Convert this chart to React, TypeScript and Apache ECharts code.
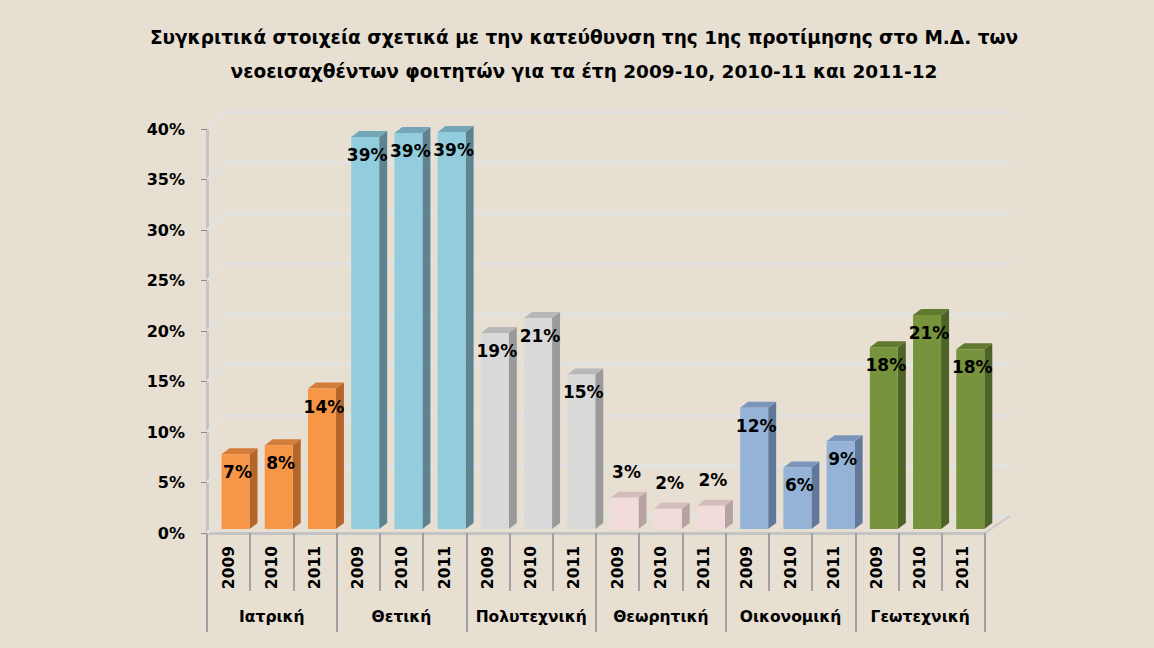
import React, { useEffect, useRef } from "react";
import * as echarts from "echarts";

const TITLE =
  "Συγκριτικά στοιχεία σχετικά με την κατεύθυνση της 1ης προτίμησης στο Μ.Δ. των\nνεοεισαχθέντων φοιτητών για τα έτη 2009-10, 2010-11 και 2011-12";

const years = ["2009", "2010", "2011"];
const groups = ["Ιατρική", "Θετική", "Πολυτεχνική", "Θεωρητική", "Οικονομική", "Γεωτεχνική"];

const iatriki = [7.4, 8.3, 13.9];
const thetiki = [38.8, 39.2, 39.3];
const polytexniki = [19.4, 20.9, 15.3];
const theoritiki = [3.1, 2.0, 2.3];
const oikonomiki = [12.0, 6.1, 8.7];
const geotexniki = [18.0, 21.2, 17.8];

const groupValues = [iatriki, thetiki, polytexniki, theoritiki, oikonomiki, geotexniki];

const yTicks = [0, 5, 10, 15, 20, 25, 30, 35, 40];

// front, side, top colours per group
const palette = [
  ["#f79646", "#b3652a", "#d47d3a"],
  ["#93cddd", "#5d8391", "#73a6b6"],
  ["#d9d9d9", "#9a9a9a", "#b8b8b8"],
  ["#f2dcdb", "#b8a2a1", "#d3bcbb"],
  ["#95b3d7", "#60789a", "#7a96ba"],
  ["#77933c", "#4f6228", "#627a30"],
];

const FONT = "'DejaVu Sans', 'Noto Sans', sans-serif";

export default function App() {
  const ref = useRef<HTMLDivElement>(null);

  useEffect(() => {
    if (!ref.current) return;
    const chart = echarts.init(ref.current, undefined, { renderer: "svg" });

    const xCats: string[] = [];
    const barData: number[][] = [];
    groupValues.forEach((vals, g) => {
      vals.forEach((v, i) => {
        xCats.push(years[i]);
        barData.push([xCats.length - 1, v, g]);
      });
    });

    const DX = 8;
    const DY = -6;
    const WDX = 19;
    const WDY = -17;

    const option: any = {
      animation: false,
      backgroundColor: "#e7dfd2",
      textStyle: { fontFamily: FONT },
      title: {
        text: TITLE,
        left: 579,
        top: 15,
        textAlign: "center",
        textStyle: {
          fontFamily: FONT,
          fontSize: 18.5,
          fontWeight: "bold",
          color: "#000",
          lineHeight: 34,
        },
      },
      grid: [
        { left: 207, top: 129, width: 778, height: 404 },
        { left: 226, top: 112, width: 784, height: 404 },
      ],
      xAxis: [
        {
          type: "category",
          gridIndex: 0,
          data: xCats,
          axisLine: { show: true, lineStyle: { color: "#c4c4c4", width: 3 } },
          axisTick: {
            show: true,
            interval: 0,
            length: 58,
            lineStyle: { color: "#a0a0a0", width: 2 },
          },
          axisLabel: {
            interval: 0,
            rotate: 90,
            margin: 13,
            fontFamily: FONT,
            fontSize: 15.5,
            fontWeight: "bold",
            color: "#000",
          },
          splitLine: { show: false },
        },
        {
          type: "category",
          gridIndex: 0,
          position: "bottom",
          data: groups,
          axisLine: { show: false },
          axisTick: {
            show: true,
            interval: 0,
            length: 99,
            lineStyle: { color: "#a0a0a0", width: 2 },
          },
          axisLabel: {
            interval: 0,
            margin: 76,
            fontFamily: FONT,
            fontSize: 15.5,
            fontWeight: "bold",
            color: "#000",
          },
          splitLine: { show: false },
        },
        {
          type: "category",
          gridIndex: 1,
          data: xCats,
          show: false,
        },
      ],
      yAxis: [
        {
          type: "value",
          gridIndex: 0,
          min: 0,
          max: 40,
          interval: 5,
          axisLine: { show: true, lineStyle: { color: "#c4c4c4", width: 3 } },
          axisTick: { show: true, length: 6, lineStyle: { color: "#8a8a8a", width: 1 } },
          axisLabel: {
            formatter: "{value}%",
            margin: 22,
            fontFamily: FONT,
            fontSize: 16,
            fontWeight: "bold",
            color: "#000",
          },
          splitLine: { show: false },
        },
        {
          type: "value",
          gridIndex: 1,
          min: 0,
          max: 40,
          interval: 5,
          axisLine: { show: false },
          axisTick: { show: false },
          axisLabel: { show: false },
          splitLine: { show: true, lineStyle: { color: "#e2e2e2", width: 3 } },
        },
      ],
      series: [
        {
          type: "custom",
          name: "walls",
          xAxisIndex: 0,
          yAxisIndex: 0,
          silent: true,
          z: 1,
          data: yTicks.map((t) => [0, t]),
          renderItem: (params: any, api: any) => {
            const cs = params.coordSys;
            const p = api.coord([0, api.value(1)]);
            const children: any[] = [
              {
                type: "line",
                shape: { x1: cs.x, y1: p[1], x2: cs.x + WDX, y2: p[1] + WDY },
                style: { stroke: "#e2e2e2", lineWidth: 3 },
              },
            ];
            if (api.value(1) === 0) {
              children.push({
                type: "line",
                shape: {
                  x1: cs.x + cs.width,
                  y1: p[1],
                  x2: cs.x + cs.width + WDX + 6,
                  y2: p[1] + WDY,
                },
                style: { stroke: "#c8c8c8", lineWidth: 2 },
              });
            }
            return { type: "group", children };
          },
        },
        {
          type: "custom",
          name: "bars",
          xAxisIndex: 0,
          yAxisIndex: 0,
          z: 3,
          data: barData,
          renderItem: (params: any, api: any) => {
            const idx = api.value(0);
            const val = api.value(1);
            const g = api.value(2);
            const base = api.coord([idx, 0]);
            const top = api.coord([idx, val]);
            const band = api.size([1, 0])[0];
            const slotLeft = base[0] - band / 2;
            const fl = slotLeft + 14.5;
            const fw = 28;
            const floorY = base[1] - 4;
            const topY = top[1] - 4;
            const [cf, cs, ct] = palette[g];
            const big = val >= 5;
            const label = Math.round(val) + "%";
            return {
              type: "group",
              children: [
                {
                  type: "polygon",
                  shape: {
                    points: [
                      [fl + fw, topY],
                      [fl + fw + DX, topY + DY],
                      [fl + fw + DX, floorY + DY],
                      [fl + fw, floorY],
                    ],
                  },
                  style: { fill: cs },
                },
                {
                  type: "polygon",
                  shape: {
                    points: [
                      [fl, topY],
                      [fl + DX, topY + DY],
                      [fl + fw + DX, topY + DY],
                      [fl + fw, topY],
                    ],
                  },
                  style: { fill: ct },
                },
                {
                  type: "rect",
                  shape: { x: fl, y: topY, width: fw, height: floorY - topY },
                  style: { fill: cf },
                },
                {
                  type: "text",
                  x: fl + (fw + DX) / 2 - 2,
                  y: big ? topY + 18 : topY - 26,
                  style: {
                    text: label,
                    align: "center",
                    verticalAlign: "middle",
                    fontFamily: FONT,
                    fontSize: 17,
                    fontWeight: "bold",
                    fill: "#000",
                  },
                  z2: 10,
                },
              ],
            };
          },
        },
      ],
    };

    chart.setOption(option);
    return () => chart.dispose();
  }, []);

  return (
    <div
      ref={ref}
      style={{ position: "fixed", left: 0, top: 0, width: 1154, height: 648 }}
    />
  );
}
